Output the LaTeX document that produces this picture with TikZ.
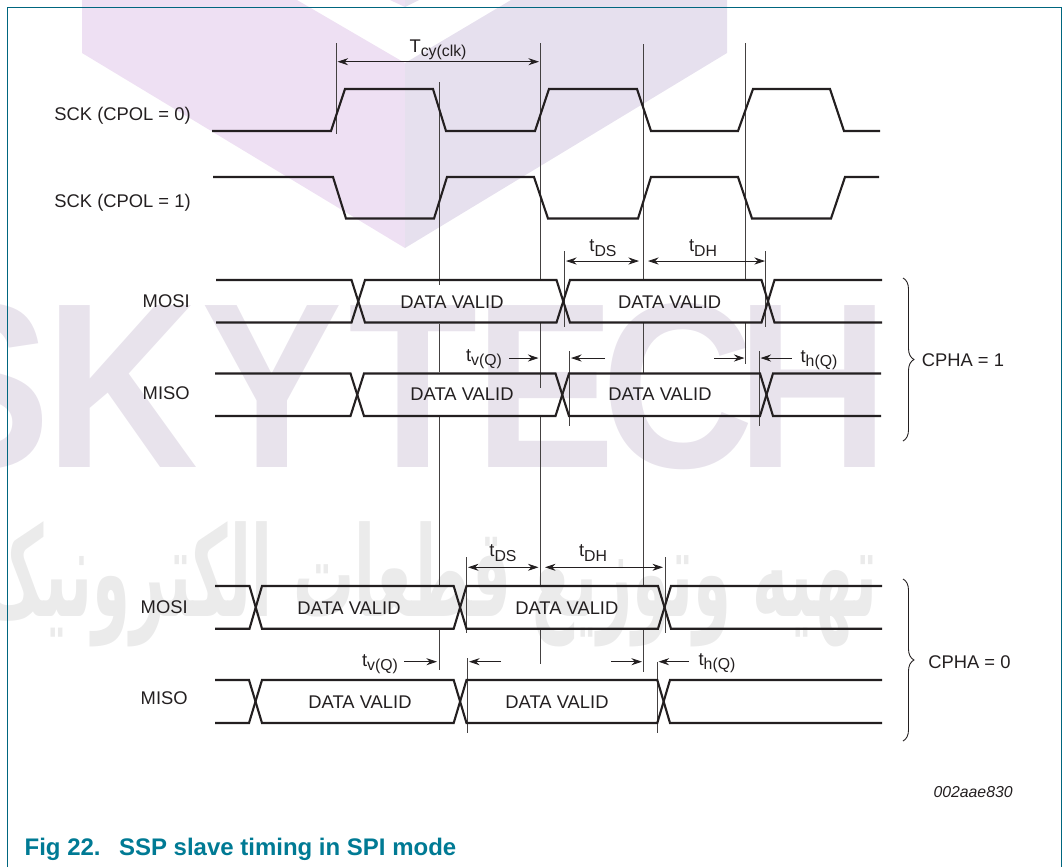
\documentclass[tikz,border=0pt]{standalone}
\usepackage{fontspec}
\setmainfont{Liberation Sans}
\newfontfamily\arabicfont[Script=Arabic]{DejaVu Sans}
\TeXXeTstate=1
\usetikzlibrary{arrows.meta,decorations.pathreplacing}
\definecolor{inkblack}{HTML}{231F20}
\definecolor{frameteal}{HTML}{00667F}
\definecolor{titleteal}{HTML}{007A94}
\definecolor{markpink}{HTML}{EEE0F3}
\definecolor{markblue}{HTML}{E6E0EE}
\definecolor{markgray}{HTML}{E8E3EC}
\definecolor{markarab}{HTML}{EBEBEB}
\newcommand{\subt}[1]{\raisebox{-2.6pt}{\fontsize{9}{9}\selectfont #1}}
\tikzset{
    wave/.style={draw=inkblack, line width=1.2pt},
    marker/.style={draw=inkblack!85, line width=.45pt},
    dim/.style={draw=inkblack, line width=.45pt, -{Stealth[length=6pt,width=4pt]}},
    dimboth/.style={draw=inkblack, line width=.45pt, {Stealth[length=6pt,width=4pt]}-{Stealth[length=6pt,width=4pt]}},
    lbl/.style={inner sep=0pt, text=inkblack, font=\fontsize{10.45}{12}\selectfont},
    brace/.style={draw=inkblack, line width=.5pt, decorate, decoration={brace, amplitude=.22cm, aspect=.5}},
    wm/.style={inner sep=0pt, anchor=base, text=markgray, font=\fontsize{134}{134}\selectfont\bfseries}
}
\begin{document}
\begin{tikzpicture}[x=.02cm, y=-.02cm]
    \useasboundingbox (0, 0) rectangle (1063, 867);

    \fill[markpink](82, 0) -- (82, 53) -- (405, 248) -- (405, 63) -- (297, 0) -- cycle;
    \fill[markblue](405, 248) -- (727, 53) -- (727, 0) -- (511, 0) -- (405, 63) -- cycle;
    \fill[markpink](390, 0) -- (405, 7) -- (405, 0) -- cycle;
    \fill[markblue](405, 0) -- (405, 7) -- (419, 0) -- cycle;

    \begin{scope}
        \clip (0, 0) rectangle (1063, 867);
        \node[wm] (wmS) at (-20, 467) {\scalebox{.9}[1]{S}};
        \node[wm] (wmK) at (122, 467) {\scalebox{.9}[1]{K}};
        \node[wm] (wmY) at (272, 467) {\scalebox{.9}[1]{Y}};
        \node[wm] (wmT) at (413, 467) {\scalebox{.9}[1]{T}};
        \node[wm] (wmE) at (545, 467) {\scalebox{.9}[1]{E}};
        \node[wm] (wmC) at (678, 467) {\scalebox{.9}[1]{C}};
        \node[wm] (wmH) at (813, 467) {\scalebox{.9}[1]{H}};
        \node[inner sep=0pt, text=markarab] (wmfa) at (430, 584)
            {\resizebox{510pt}{54pt}{\arabicfont\bfseries\beginR تهیه وتوزیع قطعات الکترونیک\endR}};
    \end{scope}

    \draw[frameteal, line width=.7pt](7.5, 867) -- (7.5, 7.5) -- (1061.5, 7.5) -- (1061.5, 867);

    \draw[marker](336, 43) to (336, 134);
    \draw[marker](439, 82) to (439, 285);
        \draw[marker](439, 324) to (439, 372);
        \draw[marker](439, 416) to (439, 586);
        \draw[marker](439, 629) to (439, 670);
    \draw[marker](540, 43) to (540, 280);
        \draw[marker](540, 323) to (540, 388);
        \draw[marker](540, 416) to (540, 586);
        \draw[marker](540, 629) to (540, 664);
    \draw[marker](643, 44) to (643, 280);
        \draw[marker](643, 323) to (643, 373);
        \draw[marker](643, 416) to (643, 586);
        \draw[marker](643, 629) to (643, 672);
    \draw[marker](745, 43) to (745, 280);
        \draw[marker](745, 323) to (745, 364);

    \draw[marker](564, 251) to (564, 327);
    \draw[marker](765.5, 251) to (765.5, 327);
    \draw[marker](569, 351) to (569, 426);
    \draw[marker](759, 351) to (759, 426);
    \draw[marker](466, 557) to (466, 633);
    \draw[marker](665, 557) to (665, 633);
    \draw[marker](467, 658) to (467, 733);
    \draw[marker](657, 662) to (657, 733);

    \draw[wave](212, 131) -- (331, 131) -- (345, 89) -- (433, 89) -- (446, 131) -- (535, 131) -- (549, 89) -- (637, 89) -- (651, 131) -- (738, 131) -- (753, 89) -- (830, 89) -- (844, 131) -- (880, 131);
    \draw[wave](213, 177) -- (333, 177) -- (346, 218.5) -- (434, 218.5) -- (447, 177) -- (534, 177) -- (548, 218.5) -- (638, 218.5) -- (651, 177) -- (738, 177) -- (752, 218.5) -- (831, 218.5) -- (845, 177) -- (879, 177);

    \draw[wave](216, 280) -- (351.5, 280) -- (365, 322.5) -- (556.5, 322.5) -- (570, 280) -- (761.5, 280) -- (774.5, 322.5) -- (882, 322.5);
    \draw[wave](216, 322.5) -- (351.5, 322.5) -- (365, 280) -- (556.5, 280) -- (570, 322.5) -- (761.5, 322.5) -- (774.5, 280) -- (882, 280);
    \draw[wave](215, 373.5) -- (350.5, 373.5) -- (364, 416) -- (555.5, 416) -- (569, 373.5) -- (760, 373.5) -- (773, 416) -- (881, 416);
    \draw[wave](215, 416) -- (350.5, 416) -- (364, 373.5) -- (555.5, 373.5) -- (569, 416) -- (760, 416) -- (773, 373.5) -- (881, 373.5);

    \draw[wave](215, 586) -- (249.5, 586) -- (262, 628.7) -- (453.7, 628.7) -- (466.5, 586) -- (658, 586) -- (671, 628.7) -- (882, 628.7);
    \draw[wave](215, 628.7) -- (249.5, 628.7) -- (262, 586) -- (453.7, 586) -- (466.5, 628.7) -- (658, 628.7) -- (671, 586) -- (882, 586);
    \draw[wave](215, 680) -- (249, 680) -- (262, 723) -- (453.7, 723) -- (466.5, 680) -- (657.3, 680) -- (670, 723) -- (882, 723);
    \draw[wave](215, 723) -- (249, 723) -- (262, 680) -- (453.7, 680) -- (466.5, 723) -- (657.3, 723) -- (670, 680) -- (882, 680);

    \draw[dimboth](337.5, 61.7) to (539, 61.7);
    \draw[dimboth](566, 261) to (639, 261);
    \draw[dimboth](648, 261) to (765, 261);
    \draw[dim](509, 358) to (538.5, 358);
    \draw[dim](605, 358) to (571, 358);
    \draw[dim](714, 358) to (744.5, 358);
    \draw[dim](791.5, 358) to (760.5, 358);
    \draw[dimboth](468, 567.3) to (538.5, 567.3);
    \draw[dimboth](545, 567.3) to (663, 567.3);
    \draw[dim](404, 661.7) to (437, 661.7);
    \draw[dim](501, 661.7) to (469, 661.7);
    \draw[dim](611, 661.7) to (642, 661.7);
    \draw[dim](689, 661.7) to (658.5, 661.7);

    \node[lbl] (tcy) at (438, 50) {T\subt{cy(clk)}};
    \node[lbl] (tds1) at (603, 248) {t\subt{DS}};
    \node[lbl] (tdh1) at (703, 248) {t\subt{DH}};
    \node[lbl] (tv1) at (484, 359) {t\subt{v(Q)}};
    \node[lbl] (th1) at (819, 360) {t\subt{h(Q)}};
    \node[lbl] (tds0) at (503, 553) {t\subt{DS}};
    \node[lbl] (tdh0) at (593, 553) {t\subt{DH}};
    \node[lbl] (tv0) at (380, 664) {t\subt{v(Q)}};
    \node[lbl] (th0) at (717, 663) {t\subt{h(Q)}};

    \node[lbl, anchor=east] (sck0) at (191, 116) {SCK (CPOL = 0)};
    \node[lbl, anchor=east] (sck1) at (191, 203) {SCK (CPOL = 1)};
    \node[lbl, anchor=east] (mosi1) at (190, 301) {MOSI};
    \node[lbl, anchor=east] (miso1) at (190, 393) {MISO};
    \node[lbl, anchor=east] (mosi0) at (188, 607) {MOSI};
    \node[lbl, anchor=east] (miso0) at (188, 698) {MISO};

    \node[lbl] (dva) at (452, 301.7) {DATA VALID};
    \node[lbl] (dvb) at (669.6, 301.7) {DATA VALID};
    \node[lbl] (dvc) at (462, 394) {DATA VALID};
    \node[lbl] (dvd) at (660, 394) {DATA VALID};
    \node[lbl] (dve) at (349, 607.7) {DATA VALID};
    \node[lbl] (dvf) at (566.8, 607.7) {DATA VALID};
    \node[lbl] (dvg) at (360, 701.7) {DATA VALID};
    \node[lbl] (dvh) at (557, 701.7) {DATA VALID};

    \draw[brace](903, 278) to (903, 441);
    \draw[brace](903, 579) to (903, 741);
    \node[lbl, anchor=west] (cpha1) at (921.5, 360) {CPHA = 1};
    \node[lbl, anchor=west] (cpha0) at (928, 661.7) {CPHA = 0};

    \node[inner sep=0pt, anchor=east, text=inkblack, font=\fontsize{9}{11}\selectfont\itshape] (code) at (1013, 791.7) {002aae830};
    \node[inner sep=0pt, anchor=west, text=titleteal, font=\fontsize{13.65}{16}\selectfont\bfseries] (title) at (24.3, 849) {Fig 22.\hspace{10.5pt}SSP slave timing in SPI mode};
\end{tikzpicture}
\end{document}
